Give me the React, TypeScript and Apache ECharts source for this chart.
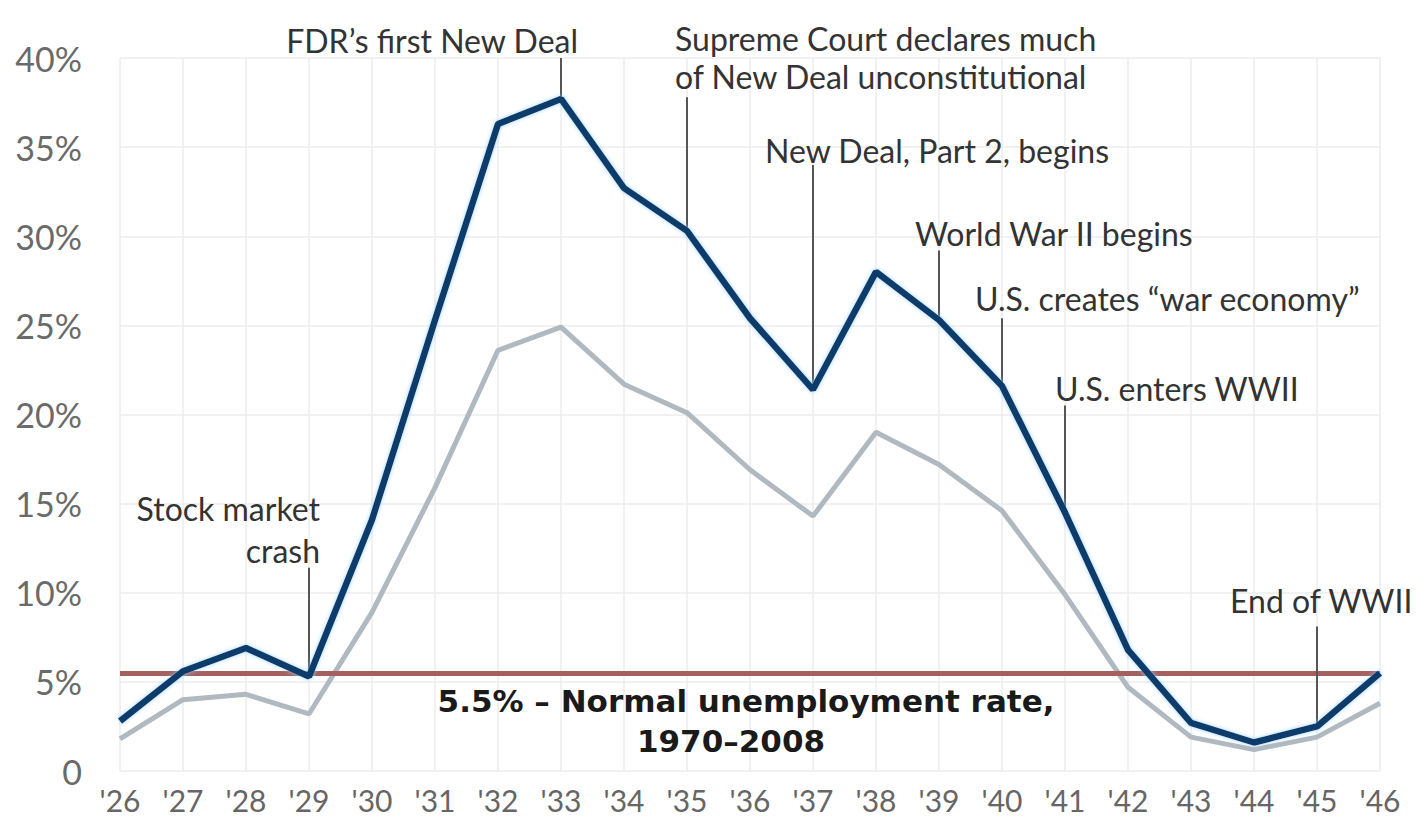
import React, { useEffect, useRef } from "react";
import * as echarts from "echarts";

const years = ["'26", "'27", "'28", "'29", "'30", "'31", "'32", "'33", "'34", "'35", "'36", "'37", "'38", "'39", "'40", "'41", "'42", "'43", "'44", "'45", "'46"];
const nonfarmRate = [2.8, 5.6, 6.9, 5.3, 14.1, 25.3, 36.3, 37.7, 32.7, 30.3, 25.4, 21.4, 28.0, 25.3, 21.6, 14.5, 6.8, 2.7, 1.6, 2.5, 5.5];
const civilianRate = [1.8, 4.0, 4.3, 3.2, 8.9, 15.9, 23.6, 24.9, 21.7, 20.1, 16.9, 14.3, 19.0, 17.2, 14.6, 9.9, 4.7, 1.9, 1.2, 1.9, 3.8];
const normalRate = 5.5;
const yTicks = [0, 5, 10, 15, 20, 25, 30, 35, 40];

// connector lines: year, top value, bottom value
const connectorYears = ["'29", "'33", "'35", "'37", "'39", "'40", "'41", "'45"];
const connectorTops = [11.4, 40, 37.8, 34.0, 29.2, 25.4, 20.5, 8.1];
const connectorBottoms = [5.3, 37.7, 30.3, 21.4, 25.3, 21.6, 14.5, 2.5];

const FONT = "Lato, 'Open Sans', sans-serif";
const BOLD_FONT = "'DejaVu Sans', Lato, sans-serif";

export default function App() {
  const ref = useRef<HTMLDivElement>(null);
  useEffect(() => {
    if (!ref.current) return;
    const chart = echarts.init(ref.current, undefined, { renderer: "svg" });
    const connectorData = connectorYears.map((y, i) => [
      { coord: [y, connectorTops[i]] },
      { coord: [y, connectorBottoms[i]] },
    ]);
    const annText = (text: string, x: number, y: number, align: string = "left", extra: any = {}) => ({
      type: "text",
      x,
      y,
      z: 100,
      style: {
        text,
        fill: "#333",
        font: `32px ${FONT}`,
        textAlign: align,
        textVerticalAlign: "middle",
        ...extra,
      },
    });
    const boldStyle = { font: `bold 31px ${BOLD_FONT}`, fill: "#1a1a1a" };
    chart.setOption({
      animation: false,
      backgroundColor: "#ffffff",
      grid: { left: 120, right: 36, top: 58, bottom: 47, containLabel: false },
      xAxis: {
        type: "category",
        data: years,
        boundaryGap: false,
        axisLine: { show: false },
        axisTick: { show: false },
        axisLabel: { fontSize: 30, color: "#666", fontFamily: FONT, margin: 14 },
        splitLine: { show: true, lineStyle: { color: "#ededed", width: 1.5 } },
      },
      yAxis: {
        type: "value",
        min: yTicks[0],
        max: yTicks[yTicks.length - 1],
        interval: 5,
        axisLine: { show: false },
        axisTick: { show: false },
        axisLabel: {
          fontSize: 34,
          color: "#6a6a6a",
          fontFamily: FONT,
          margin: 38,
          formatter: (v: number) => (v === 0 ? "0" : v + "%"),
        },
        splitLine: { show: true, lineStyle: { color: "#ededed", width: 1.5 } },
      },
      series: [
        {
          name: "Civilian",
          type: "line",
          data: civilianRate,
          symbol: "none",
          z: 2,
          lineStyle: { color: "#b0b8c0", width: 5 },
          markLine: {
            silent: true,
            symbol: "none",
            label: { show: false },
            data: [
              { yAxis: normalRate, lineStyle: { color: "#a3605e", width: 5, type: "solid" } },
              ...connectorData.map((d) => [
                { ...d[0], lineStyle: { color: "#555", width: 2, type: "solid" } },
                d[1],
              ]),
            ],
          },
        },
        {
          name: "Nonfarm",
          type: "line",
          data: nonfarmRate,
          symbol: "none",
          z: 5,
          lineStyle: {
            color: "#0f3a6b",
            width: 6.5,
            shadowColor: "rgba(150,210,255,0.9)",
            shadowBlur: 4,
          },
        },
      ],
      graphic: [
        annText("FDR’s first New Deal", 578, 40, "right"),
        annText("Supreme Court declares much", 675, 38),
        annText("of New Deal unconstitutional", 675, 76),
        annText("New Deal, Part 2, begins", 765, 150),
        annText("World War II begins", 915, 233),
        annText("U.S. creates “war economy”", 975, 298),
        annText("U.S. enters WWII", 1055, 388),
        annText("End of WWII", 1230, 600),
        annText("Stock market", 320, 508, "right"),
        annText("crash", 320, 550, "right"),
        annText("5.5% – Normal unemployment rate,", 746, 701, "center", boldStyle),
        annText("1970–2008", 731, 741, "center", boldStyle),
      ],
    });
    return () => chart.dispose();
  }, []);
  return (
    <div
      ref={ref}
      style={{ position: "absolute", left: 0, top: 0, width: 1416, height: 818, background: "#fff" }}
    />
  );
}
